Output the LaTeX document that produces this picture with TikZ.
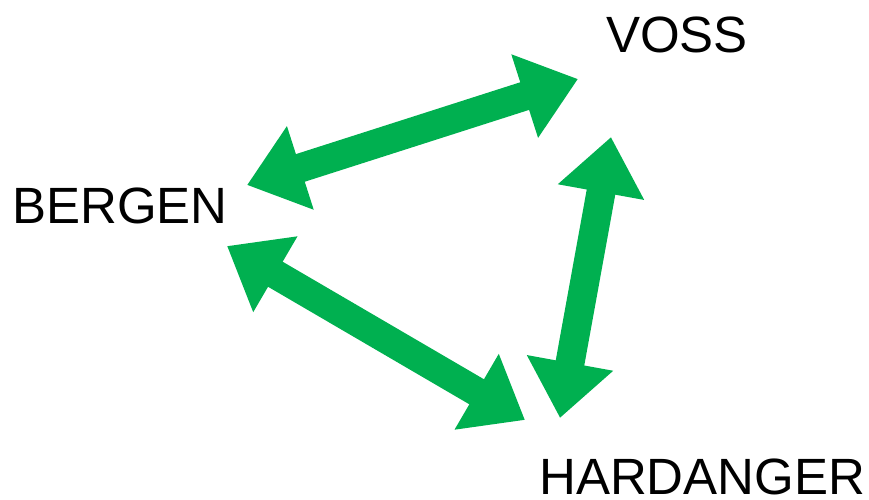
\documentclass[tikz,border=0pt]{standalone}
\usepackage{fontspec}
\setmainfont{Liberation Sans}
\usepackage{xcolor}
\usepackage{tikz}
\usetikzlibrary{arrows.meta}

\definecolor{routegreen}{HTML}{00B050}
\tikzset{
    town/.style={anchor=base west,inner sep=0pt,font=\fontsize{51pt}{51pt}\selectfont},
    route/.style={routegreen,line width=29pt,
        {Triangle[length=56pt,width=84pt]}-{Triangle[length=56pt,width=84pt]}}
}

\begin{document}
\begin{tikzpicture}[x=1pt,y=-1pt]
    \useasboundingbox (0,0) rectangle (869,499);

    \node[town] (voss) at (606,52) {VOSS};
    \node[town] (bergen) at (12,223) {BERGEN};
    \node[town] (hardanger) at (539,494) {HARDANGER};

    \coordinate (bv) at (247,185);
    \coordinate (vb) at (578,79);
    \coordinate (bh) at (227,246);
    \coordinate (hb) at (525,420);
    \coordinate (vh) at (611,137);
    \coordinate (hv) at (560,418);

    \draw[route] (bv) -- (vb);
    \draw[route] (bh) -- (hb);
    \draw[route] (vh) -- (hv);
\end{tikzpicture}
\end{document}
